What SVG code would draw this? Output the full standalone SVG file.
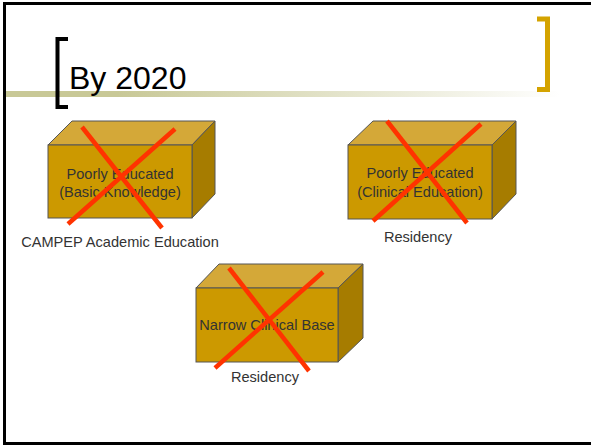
<svg xmlns="http://www.w3.org/2000/svg" width="591" height="445" viewBox="0 0 591 445">
<style>
.front{fill:#CC9900;stroke:#555;stroke-width:1}
.top{fill:#D4A838;stroke:#555;stroke-width:1}
.side{fill:#A67C00;stroke:#555;stroke-width:1}
.x{stroke:#FF3300;stroke-width:4.5;stroke-linecap:butt}
.t{font-family:"Liberation Sans",Arial,sans-serif;font-size:14.6px;fill:#333;text-anchor:middle}
</style>
<defs>
<linearGradient id="g" x1="0" y1="0" x2="1" y2="0">
<stop offset="0" stop-color="#C8C896"/>
<stop offset="0.2" stop-color="#C8C896"/>
<stop offset="1" stop-color="#FFFFFF"/>
</linearGradient>
</defs>
<rect width="591" height="445" fill="#fff"/>
<g id="frame" fill="#000">
<rect x="3" y="2" width="588" height="3"/>
<rect x="3" y="2" width="3" height="443"/>
<rect x="3" y="442" width="588" height="3"/>
</g>
<g id="title">
<rect x="6" y="91" width="554" height="6" fill="url(#g)"/>
<path d="M68,39 H57.5 V107 H68" fill="none" stroke="#000" stroke-width="4"/>
<path d="M537,19 H547.5 V89.5 H537" fill="none" stroke="#D4A300" stroke-width="5"/>
<text x="69" y="89" font-family="'Liberation Sans',Arial,sans-serif" font-size="32" fill="#000">By 2020</text>
</g>
<g id="box1">
<polygon class="top" points="48,145 72,121 215,121 192,145"/>
<polygon class="side" points="192,145 215,121 215,194 192,218"/>
<rect class="front" x="48" y="145" width="144" height="73"/>
<text class="t" x="120" y="179">Poorly Educated</text>
<text class="t" x="120" y="197">(Basic Knowledge)</text>
<line class="x" x1="82" y1="127" x2="162" y2="228"/>
<line class="x" x1="175" y1="129" x2="68" y2="224"/>
<text class="t" x="120" y="247">CAMPEP Academic Education</text>
</g>
<g id="box2">
<polygon class="top" points="348,145 373,121 516,121 492,145"/>
<polygon class="side" points="492,145 516,121 516,194 492,219"/>
<rect class="front" x="348" y="145" width="144" height="74"/>
<text class="t" x="420" y="178">Poorly Educated</text>
<text class="t" x="420" y="197">(Clinical Education)</text>
<line class="x" x1="387" y1="121" x2="467" y2="223"/>
<line class="x" x1="481" y1="124" x2="373" y2="221"/>
<text class="t" x="418" y="242">Residency</text>
</g>
<g id="box3">
<polygon class="top" points="196,288 219,264 363,264 338,288"/>
<polygon class="side" points="338,288 363,264 363,338 338,362"/>
<rect class="front" x="196" y="288" width="142" height="74"/>
<text class="t" x="267" y="330">Narrow Clinical Base</text>
<line class="x" x1="229" y1="268" x2="309" y2="371"/>
<line class="x" x1="323" y1="272" x2="215" y2="368"/>
<text class="t" x="265" y="382">Residency</text>
</g>
<g id="connectors"/>
</svg>
